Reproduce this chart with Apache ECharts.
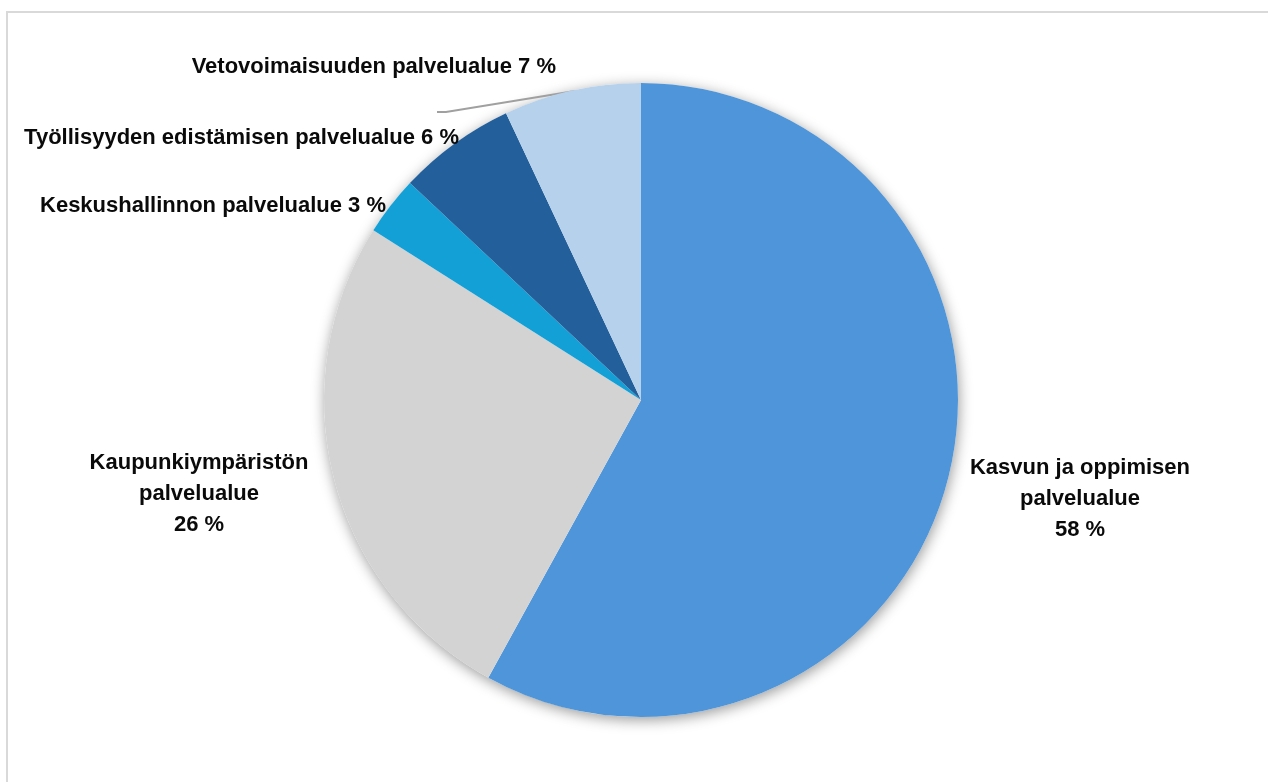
<!DOCTYPE html>
<html>
<head>
<meta charset="utf-8">
<script src="https://cdn.jsdelivr.net/npm/echarts@6/dist/echarts.min.js"></script>
<style>
html,body{margin:0;padding:0;background:#fff;}
#chart{width:1268px;height:782px;}
</style>
</head>
<body>
<div id="chart"></div>
<script>
const categories = [
  "Kasvun ja oppimisen palvelualue",
  "Kaupunkiympäristön palvelualue",
  "Keskushallinnon palvelualue",
  "Työllisyyden edistämisen palvelualue",
  "Vetovoimaisuuden palvelualue"
];
const labelNames = [
  "Kasvun ja oppimisen\npalvelualue",
  "Kaupunkiympäristön\npalvelualue",
  "Keskushallinnon palvelualue",
  "Työllisyyden edistämisen palvelualue",
  "Vetovoimaisuuden palvelualue"
];
const values = [58, 26, 3, 6, 7];
const colors = ["#4F95D9", "#D3D3D3", "#12A0D7", "#235F9B", "#B6D1EB"];

const FONT = "'Liberation Sans', Arial, sans-serif";
const CX = 641, CY = 400, R = 317;

// label placement (x, y, align) per slice
const labelPlace = [
  {x: 1080, y: 499, align: 'center'},
  {x: 199, y: 494, align: 'center'},
  {x: 386, y: 206, align: 'right'},
  {x: 459, y: 138, align: 'right'},
  {x: 556, y: 67, align: 'right'}
];

const chart = echarts.init(document.getElementById('chart'), null, {renderer: 'canvas'});

const data = categories.map((c, i) => ({
  name: c,
  value: values[i],
  itemStyle: {color: colors[i]},
  labelLine: {show: i === 4}
}));

chart.setOption({
  animation: false,
  backgroundColor: '#ffffff',
  graphic: [{
    type: 'rect',
    shape: {x: 7, y: 12, width: 1300, height: 800},
    style: {fill: 'none', stroke: '#D9D9D9', lineWidth: 2},
    silent: true,
    z: -10
  }],
  series: [
    {
      type: 'pie',
      silent: true,
      center: [CX, CY],
      radius: R,
      z: 1,
      label: {show: false},
      labelLine: {show: false},
      itemStyle: {
        color: '#ffffff',
        shadowBlur: 14,
        shadowColor: 'rgba(0,0,0,0.4)',
        shadowOffsetX: 1,
        shadowOffsetY: 3
      },
      data: [{value: values.reduce((a, b) => a + b, 0)}]
    },
    {
      type: 'pie',
      center: [CX, CY],
      radius: R,
      startAngle: 90,
      clockwise: true,
      z: 2,
      avoidLabelOverlap: false,
      data: data,
      itemStyle: {borderWidth: 0},
      label: {
        show: true,
        position: 'outside',
        fontFamily: FONT,
        fontWeight: 'bold',
        fontSize: 22,
        color: '#0a0a0a',
        lineHeight: 31,
        formatter: function (p) {
          const nm = labelNames[p.dataIndex];
          if (p.dataIndex <= 1) return nm + '\n' + p.value + ' %';
          return nm + ' ' + p.value + ' %';
        }
      },
      labelLine: {
        show: false,
        lineStyle: {color: '#A0A0A0', width: 2}
      },
      labelLayout: function (params) {
        const lp = labelPlace[params.dataIndex];
        const out = {x: lp.x, y: lp.y, align: lp.align, verticalAlign: 'middle'};
        if (params.dataIndex === 4) {
          out.labelLinePoints = [[575, 91], [446, 112], [437, 112]];
        }
        return out;
      }
    }
  ]
});
</script>
</body>
</html>
